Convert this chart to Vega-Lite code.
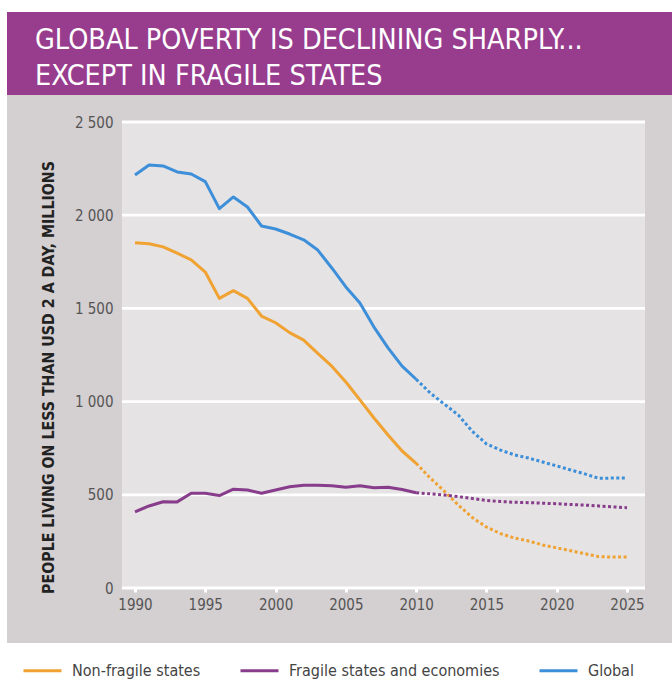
{
  "$schema": "https://vega.github.io/schema/vega-lite/v6.json",
  "background": "white",
  "padding": {"left": 7, "top": 12, "right": 0, "bottom": 0},
  "config": {
    "view": {"stroke": null},
    "concat": {"spacing": 0},
    "font": "Liberation Sans Narrow, DejaVu Sans Condensed, sans-serif"
  },
  "spacing": 0,
  "vconcat": [
    {
      "width": 665,
      "height": 83,
      "view": {"fill": "#983d8e", "stroke": null},
      "data": {"values": [
        {"n": 1, "line": "GLOBAL POVERTY IS DECLINING SHARPLY..."},
        {"n": 2, "line": "EXCEPT IN FRAGILE STATES"}
      ]},
      "mark": {"type": "text", "align": "left", "baseline": "middle", "color": "white", "fontSize": 28.5, "x": 28},
      "encoding": {
        "y": {"field": "n", "type": "ordinal", "axis": null, "scale": {"type": "point", "padding": 0.653, "align": 0.596}},
        "text": {"field": "line"}
      }
    },
    {
      "width": 665,
      "height": 548,
      "view": {"fill": "#d4cfd0", "stroke": null},
      "data": {
        "values": [
          {"year": 1990, "series": "Non-fragile states", "value": 1852},
          {"year": 1991, "series": "Non-fragile states", "value": 1847},
          {"year": 1992, "series": "Non-fragile states", "value": 1830},
          {"year": 1993, "series": "Non-fragile states", "value": 1796},
          {"year": 1994, "series": "Non-fragile states", "value": 1760},
          {"year": 1995, "series": "Non-fragile states", "value": 1695},
          {"year": 1996, "series": "Non-fragile states", "value": 1554},
          {"year": 1997, "series": "Non-fragile states", "value": 1595},
          {"year": 1998, "series": "Non-fragile states", "value": 1554},
          {"year": 1999, "series": "Non-fragile states", "value": 1459},
          {"year": 2000, "series": "Non-fragile states", "value": 1423},
          {"year": 2001, "series": "Non-fragile states", "value": 1370},
          {"year": 2002, "series": "Non-fragile states", "value": 1330},
          {"year": 2003, "series": "Non-fragile states", "value": 1259},
          {"year": 2004, "series": "Non-fragile states", "value": 1190},
          {"year": 2005, "series": "Non-fragile states", "value": 1105},
          {"year": 2006, "series": "Non-fragile states", "value": 1009},
          {"year": 2007, "series": "Non-fragile states", "value": 912},
          {"year": 2008, "series": "Non-fragile states", "value": 821},
          {"year": 2009, "series": "Non-fragile states", "value": 735},
          {"year": 2010, "series": "Non-fragile states", "value": 669},
          {"year": 2011, "series": "Non-fragile states", "value": 590},
          {"year": 2012, "series": "Non-fragile states", "value": 520},
          {"year": 2013, "series": "Non-fragile states", "value": 445},
          {"year": 2014, "series": "Non-fragile states", "value": 378},
          {"year": 2015, "series": "Non-fragile states", "value": 327},
          {"year": 2016, "series": "Non-fragile states", "value": 292},
          {"year": 2017, "series": "Non-fragile states", "value": 268},
          {"year": 2018, "series": "Non-fragile states", "value": 252},
          {"year": 2019, "series": "Non-fragile states", "value": 231},
          {"year": 2020, "series": "Non-fragile states", "value": 215},
          {"year": 2021, "series": "Non-fragile states", "value": 200},
          {"year": 2022, "series": "Non-fragile states", "value": 184},
          {"year": 2023, "series": "Non-fragile states", "value": 168},
          {"year": 2024, "series": "Non-fragile states", "value": 166},
          {"year": 2025, "series": "Non-fragile states", "value": 166},
          {"year": 1990, "series": "Fragile states and economies", "value": 409},
          {"year": 1991, "series": "Fragile states and economies", "value": 440},
          {"year": 1992, "series": "Fragile states and economies", "value": 463},
          {"year": 1993, "series": "Fragile states and economies", "value": 462},
          {"year": 1994, "series": "Fragile states and economies", "value": 508},
          {"year": 1995, "series": "Fragile states and economies", "value": 508},
          {"year": 1996, "series": "Fragile states and economies", "value": 496},
          {"year": 1997, "series": "Fragile states and economies", "value": 530},
          {"year": 1998, "series": "Fragile states and economies", "value": 526},
          {"year": 1999, "series": "Fragile states and economies", "value": 508},
          {"year": 2000, "series": "Fragile states and economies", "value": 526},
          {"year": 2001, "series": "Fragile states and economies", "value": 543},
          {"year": 2002, "series": "Fragile states and economies", "value": 551},
          {"year": 2003, "series": "Fragile states and economies", "value": 551},
          {"year": 2004, "series": "Fragile states and economies", "value": 549},
          {"year": 2005, "series": "Fragile states and economies", "value": 540},
          {"year": 2006, "series": "Fragile states and economies", "value": 549},
          {"year": 2007, "series": "Fragile states and economies", "value": 538},
          {"year": 2008, "series": "Fragile states and economies", "value": 540},
          {"year": 2009, "series": "Fragile states and economies", "value": 528},
          {"year": 2010, "series": "Fragile states and economies", "value": 511},
          {"year": 2011, "series": "Fragile states and economies", "value": 505},
          {"year": 2012, "series": "Fragile states and economies", "value": 499},
          {"year": 2013, "series": "Fragile states and economies", "value": 490},
          {"year": 2014, "series": "Fragile states and economies", "value": 480},
          {"year": 2015, "series": "Fragile states and economies", "value": 470},
          {"year": 2016, "series": "Fragile states and economies", "value": 464},
          {"year": 2017, "series": "Fragile states and economies", "value": 460},
          {"year": 2018, "series": "Fragile states and economies", "value": 458},
          {"year": 2019, "series": "Fragile states and economies", "value": 455},
          {"year": 2020, "series": "Fragile states and economies", "value": 452},
          {"year": 2021, "series": "Fragile states and economies", "value": 448},
          {"year": 2022, "series": "Fragile states and economies", "value": 445},
          {"year": 2023, "series": "Fragile states and economies", "value": 440},
          {"year": 2024, "series": "Fragile states and economies", "value": 435},
          {"year": 2025, "series": "Fragile states and economies", "value": 431},
          {"year": 1990, "series": "Global", "value": 2216},
          {"year": 1991, "series": "Global", "value": 2269},
          {"year": 1992, "series": "Global", "value": 2264},
          {"year": 1993, "series": "Global", "value": 2232},
          {"year": 1994, "series": "Global", "value": 2221},
          {"year": 1995, "series": "Global", "value": 2180},
          {"year": 1996, "series": "Global", "value": 2035},
          {"year": 1997, "series": "Global", "value": 2098},
          {"year": 1998, "series": "Global", "value": 2044},
          {"year": 1999, "series": "Global", "value": 1942},
          {"year": 2000, "series": "Global", "value": 1926},
          {"year": 2001, "series": "Global", "value": 1899},
          {"year": 2002, "series": "Global", "value": 1868},
          {"year": 2003, "series": "Global", "value": 1813},
          {"year": 2004, "series": "Global", "value": 1717},
          {"year": 2005, "series": "Global", "value": 1615},
          {"year": 2006, "series": "Global", "value": 1529},
          {"year": 2007, "series": "Global", "value": 1400},
          {"year": 2008, "series": "Global", "value": 1288},
          {"year": 2009, "series": "Global", "value": 1190},
          {"year": 2010, "series": "Global", "value": 1120},
          {"year": 2011, "series": "Global", "value": 1046},
          {"year": 2012, "series": "Global", "value": 987},
          {"year": 2013, "series": "Global", "value": 928},
          {"year": 2014, "series": "Global", "value": 840},
          {"year": 2015, "series": "Global", "value": 773},
          {"year": 2016, "series": "Global", "value": 740},
          {"year": 2017, "series": "Global", "value": 714},
          {"year": 2018, "series": "Global", "value": 697},
          {"year": 2019, "series": "Global", "value": 676},
          {"year": 2020, "series": "Global", "value": 655},
          {"year": 2021, "series": "Global", "value": 633},
          {"year": 2022, "series": "Global", "value": 612},
          {"year": 2023, "series": "Global", "value": 588},
          {"year": 2024, "series": "Global", "value": 590},
          {"year": 2025, "series": "Global", "value": 590}
        ]
      },
      "layer": [
        {
          "data": {"values": [{}]},
          "mark": {"type": "rect", "color": "#e5e3e3"},
          "encoding": {
            "x": {"datum": 1989.07, "type": "quantitative", "scale": {"domain": [1980.894, 2028.201], "nice": false, "zero": false}},
            "x2": {"datum": 2026.28},
            "y": {"datum": 0, "type": "quantitative", "scale": {"domain": [-295.06, 2644.85], "nice": false, "zero": false}},
            "y2": {"datum": 2500}
          }
        },
        {
          "data": {"values": [{"level": 0}, {"level": 500}, {"level": 1000}, {"level": 1500}, {"level": 2000}, {"level": 2500}]},
          "mark": {"type": "rule", "color": "white", "strokeWidth": 2.8},
          "encoding": {
            "x": {"datum": 1989.07, "type": "quantitative"},
            "x2": {"datum": 2026.28},
            "y": {"field": "level", "type": "quantitative"}
          }
        },
        {
          "transform": [{"filter": "datum.year <= 2010"}],
          "mark": {"type": "line", "strokeWidth": 3, "strokeJoin": "round"},
          "encoding": {
            "x": {
              "field": "year", "type": "quantitative",
              "axis": {
                "orient": "bottom", "offset": -55, "values": [1990, 1995, 2000, 2005, 2010, 2015, 2020, 2025],
                "format": "d", "domain": false, "grid": false, "title": null,
                "tickColor": "white", "tickSize": 4, "tickWidth": 3,
                "labelPadding": 5, "labelFontSize": 15, "labelColor": "#555"
              }
            },
            "y": {
              "field": "value", "type": "quantitative",
              "axis": {
                "orient": "left", "offset": -115, "values": [0, 500, 1000, 1500, 2000, 2500],
                "format": ",d", "labelExpr": "replace(datum.label, ',', ' ')",
                "domain": false, "grid": false, "ticks": false,
                "labelPadding": 9, "labelFontSize": 15, "labelColor": "#555",
                "title": "PEOPLE LIVING ON LESS THAN USD 2 A DAY, MILLIONS",
                "titleFontSize": 15.8, "titleFontWeight": "bold", "titleColor": "#222", "titlePadding": 18, "titleY": 282
              }
            },
            "color": {
              "field": "series", "type": "nominal",
              "scale": {
                "domain": ["Non-fragile states", "Fragile states and economies", "Global"],
                "range": ["#f0a232", "#883c8c", "#3d8fd9"]
              },
              "legend": {
                "orient": "none", "legendX": 15, "legendY": 638, "direction": "horizontal", "title": null,
                "symbolType": "stroke", "symbolSize": 1444, "symbolStrokeWidth": 3, "labelLimit": 400,
                "labelFontSize": 16, "labelColor": "#444", "columnPadding": 33, "labelOffset": 9
              }
            }
          }
        },
        {
          "transform": [{"filter": "datum.year >= 2010"}],
          "mark": {"type": "line", "strokeWidth": 3, "strokeDash": [3, 2.5]},
          "encoding": {
            "x": {"field": "year", "type": "quantitative"},
            "y": {"field": "value", "type": "quantitative"},
            "color": {"field": "series", "type": "nominal"}
          }
        }
      ]
    }
  ]
}
